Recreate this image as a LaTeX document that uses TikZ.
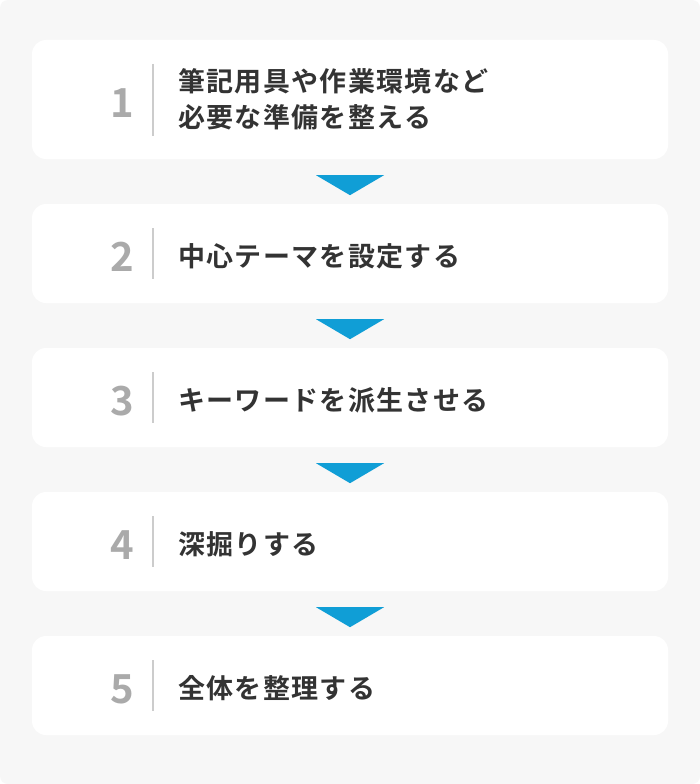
\documentclass[tikz,border=0pt]{standalone}
\usepackage{fontspec}
\usetikzlibrary{calc}
\newfontfamily\jpfont{Noto Sans CJK JP}[BoldFont={Noto Sans CJK JP Bold}]
\definecolor{bggray}{HTML}{F7F7F7}
\definecolor{txtdark}{HTML}{333333}
\definecolor{numgray}{HTML}{AAAAAA}
\definecolor{sepgray}{HTML}{CCCCCC}
\definecolor{arrowblue}{HTML}{109ED6}
\tikzset{
  stepbox/.style={draw=none, fill=white, rounded corners=14pt, minimum width=636pt, inner sep=0pt},
  numlabel/.style={anchor=base east, inner sep=0pt, text=numgray, font=\jpfont\bfseries\fontsize{40}{40}\selectfont},
  steptext/.style={anchor=base west, inner sep=0pt, text=txtdark, align=left,
     font=\jpfont\bfseries\addfontfeature{LetterSpace=5}\fontsize{27}{36}\selectfont},
  sepline/.style={draw=sepgray, line width=1.5pt},
  downtri/.style={fill=arrowblue}
}
\begin{document}
\begin{tikzpicture}[x=1pt,y=-1pt]
\fill[white] (0,0) rectangle (700,784);
\useasboundingbox (0,0) rectangle (700,784);
\fill[bggray, rounded corners=8pt] (0,0) rectangle (700,784);
% boxes
\node[stepbox, minimum height=119pt] (b1) at (350,99.5) {};
\node[stepbox, minimum height=99pt] (b2) at (350,253.5) {};
\node[stepbox, minimum height=99pt] (b3) at (350,397.5) {};
\node[stepbox, minimum height=99pt] (b4) at (350,541.5) {};
\node[stepbox, minimum height=99pt] (b5) at (350,685.5) {};
% numbers
\node[numlabel] (n1) at (134,117) {1};
\node[numlabel] (n2) at (134,271) {2};
\node[numlabel] (n3) at (134,415) {3};
\node[numlabel] (n4) at (134,559) {4};
\node[numlabel] (n5) at (134,703) {5};
% separators
\coordinate (s1a) at (153,64); \coordinate (s1b) at (153,136);
\draw[sepline] (s1a) -- (s1b);
\foreach \i/\c in {2/253.5,3/397.5,4/541.5,5/685.5}{
  \coordinate (s\i a) at (153,\c-25.5);
  \coordinate (s\i b) at (153,\c+25.5);
  \draw[sepline] (s\i a) -- (s\i b);
}
% texts
\node[steptext] (t1) at (178,127.5) {筆記用具や作業環境など\\必要な準備を整える};
\node[steptext] (t2) at (178,266.5) {中心テーマを設定する};
\node[steptext] (t3) at (178,410.5) {キーワードを派生させる};
\node[steptext] (t4) at (178,554.5) {深掘りする};
\node[steptext] (t5) at (178,698.5) {全体を整理する};
% triangles
\foreach \a in {1,2,3,4}{
  \fill[downtri] ($(b\a.south)+(-34,16)$) -- ($(b\a.south)+(34,16)$) -- ($(b\a.south)+(0,36)$) -- cycle;
}
\end{tikzpicture}
\end{document}
